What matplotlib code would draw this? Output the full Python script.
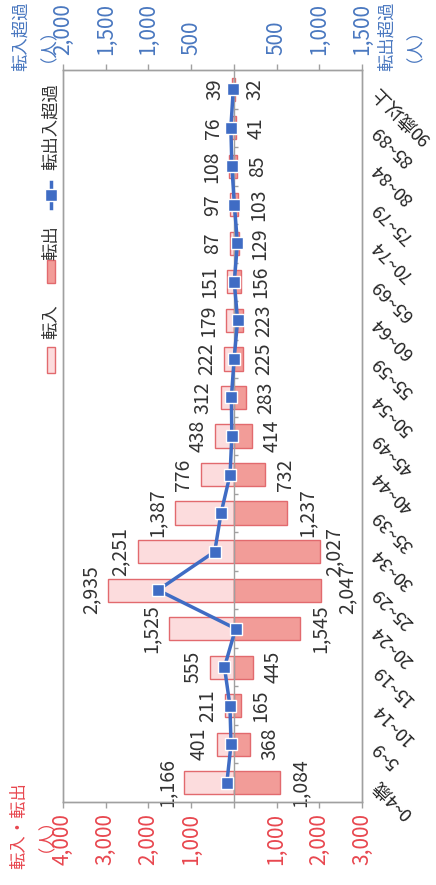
import matplotlib
matplotlib.use('Agg')
import matplotlib.pyplot as plt
from matplotlib.patches import Rectangle
from matplotlib.lines import Line2D
import matplotlib.transforms as mtransforms
import numpy as np

plt.rcParams['font.family'] = ['Noto Sans CJK JP', 'DejaVu Sans']

# ---- data ----
categories = ["0~4歳", "5~9", "10~14", "15~19", "20~24", "25~29", "30~34",
              "35~39", "40~44", "45~49", "50~54", "55~59", "60~64", "65~69",
              "70~74", "75~79", "80~84", "85~89", "90歳以上"]
in_values = [1166, 401, 211, 555, 1525, 2935, 2251, 1387, 776, 438, 312,
             222, 179, 151, 87, 97, 108, 76, 39]
out_values = [1084, 368, 165, 445, 1545, 2047, 2027, 1237, 732, 414, 283,
              225, 223, 156, 129, 103, 85, 41, 32]
bar_ticks = [-4000, -3000, -2000, -1000, 0, 1000, 2000, 3000]
bar_tick_labels = ['4,000', '3,000', '2,000', '1,000', '', '1,000', '2,000', '3,000']
net_ticks = [-2000, -1500, -1000, -500, 0, 500, 1000, 1500]
net_tick_labels = ['2,000', '1,500', '1,000', '500', '', '500', '1,000', '1,500']

# ---- styles ----
RED = '#E8474F'
BLUE = '#4A78C0'
IN_FILL = '#FCDCDD'
OUT_FILL = '#F29C98'
EDGE = '#E26A6E'
LINE_BLUE = '#3F6CC4'
GRAY = '#A0A0A0'
TXT = '#333333'

W, H = 436, 885
fig = plt.figure(figsize=(W / 100, H / 100), dpi=100)
ax = fig.add_axes([63 / W, 83 / H, 299 / W, 732 / H])
y = np.arange(len(categories))
n = len(categories)

ax.barh(y, [-v for v in in_values], height=0.6, color=IN_FILL, edgecolor=EDGE, linewidth=1)
ax.barh(y, out_values, height=0.6, color=OUT_FILL, edgecolor=EDGE, linewidth=1)
ax.set_xlim(-4000, 3000)
ax.set_ylim(-0.5, n - 0.5)
ax.set_yticks([])
ax.set_xticks(bar_ticks)
ax.set_xticklabels(bar_tick_labels, rotation=90, color=RED, fontsize=15)
ax.tick_params(axis='x', direction='out', length=4, width=1, color=GRAY, pad=4)
for s in ax.spines.values():
    s.set_color(GRAY)
    s.set_linewidth(1)
ax.axvline(0, color=GRAY, lw=1, zorder=2)
ax.hlines(np.arange(0.5, n - 1), 0, 90, color=GRAY, lw=1, zorder=2)

for i, v in enumerate(in_values):
    ax.annotate(f'{v:,}', xy=(-v, i), xytext=(-5, 0), textcoords='offset points',
                rotation=90, ha='right', va='center', fontsize=14, color=TXT)
# extra outward padding (points) for crowded 転出 labels
out_pad = {5: 11, 6: 2}
for i, v in enumerate(out_values):
    ax.annotate(f'{v:,}', xy=(v, i), xytext=(out_pad.get(i, 7), 0), textcoords='offset points',
                rotation=90, ha='left', va='center', fontsize=14, color=TXT)

trans = mtransforms.blended_transform_factory(ax.transAxes, ax.transData)
for i, c in enumerate(categories):
    ax.text(1.045, i, c, transform=trans, rotation=135, rotation_mode='anchor',
            ha='right', va='center', fontsize=13, color='#222222')

ax2 = ax.twiny()
ax2.set_xlim(-2000, 1500)
ax2.set_ylim(-0.5, n - 0.5)
net = [o - i for i, o in zip(in_values, out_values)]
ax2.plot(net, y, color=LINE_BLUE, lw=2.5, marker='s', ms=8,
         mfc=LINE_BLUE, mec='white', mew=1, zorder=5)
ax2.set_xticks(net_ticks)
ax2.set_xticklabels(net_tick_labels, rotation=90, color=BLUE, fontsize=15)
ax2.tick_params(axis='x', direction='out', length=4, width=1, color=GRAY, pad=7)
for s in ax2.spines.values():
    s.set_color(GRAY)
    s.set_linewidth(1)

# ---- axis titles ----
fig.text(28 / W, 1 - 826 / H, '転入・転出\n（人）', rotation=90, color=RED,
         ha='center', va='center', multialignment='center', fontsize=12.5,
         linespacing=1.0)
fig.text(30 / W, 1 - 36 / H, '転入超過\n（人）', rotation=90, color=BLUE,
         ha='center', va='center', multialignment='center', fontsize=12.5,
         linespacing=1.0)
fig.text(396 / W, 1 - 36 / H, '転出超過\n（人）', rotation=90, color=BLUE,
         ha='center', va='center', multialignment='center', fontsize=12.5,
         linespacing=1.0)

# ---- legend (rotated) ----
fig.add_artist(Rectangle((47 / W, 1 - 373 / H), 8 / W, 26 / H, transform=fig.transFigure,
                         facecolor=IN_FILL, edgecolor=EDGE, lw=1))
fig.text(51 / W, 1 - 322 / H, '転入', rotation=90, ha='center', va='center',
         fontsize=12.5, color=TXT)
fig.add_artist(Rectangle((47 / W, 1 - 283 / H), 8 / W, 23 / H, transform=fig.transFigure,
                         facecolor=OUT_FILL, edgecolor=EDGE, lw=1))
fig.text(51 / W, 1 - 243 / H, '転出', rotation=90, ha='center', va='center',
         fontsize=12.5, color=TXT)
fig.add_artist(Line2D([51 / W, 51 / W], [1 - 208 / H, 1 - 182 / H], transform=fig.transFigure,
                      color=LINE_BLUE, lw=2.5))
fig.add_artist(Line2D([51 / W], [1 - 195 / H], transform=fig.transFigure, marker='s', ms=8,
                      color=LINE_BLUE, mec='white', mew=1))
fig.text(51 / W, 1 - 127 / H, '転出入超過', rotation=90, ha='center', va='center',
         fontsize=12.5, color=TXT)

fig.savefig('out.png', dpi=100)
